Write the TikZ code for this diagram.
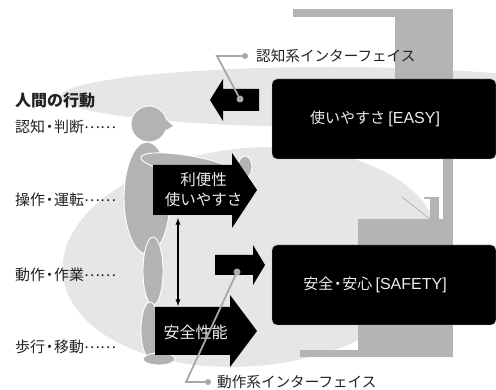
\documentclass[tikz,border=0pt]{standalone}
\usepackage{fontspec}
\setmainfont{Noto Sans CJK JP}
\newfontfamily\latin{Liberation Sans}
\usetikzlibrary{positioning}
\definecolor{machine}{HTML}{B4B4B4}
\definecolor{zone}{HTML}{E6E6E6}
\definecolor{figure}{HTML}{B3B3B3}
\definecolor{lead}{HTML}{A8A8A8}
\definecolor{ink}{HTML}{222222}
\newcommand{\nakaguro}{\kern-.2em・\kern-.2em}
\newcommand{\tenten}{\raisebox{.3em}{……}}
\newcommand{\lat}[1]{{\latin\fontsize{16}{18}\selectfont #1}}
\tikzset{
  limb/.style={fill=figure, draw=white, line width=0.9pt},
  panel/.style={fill=black, draw=black!30, line width=0.4pt, rounded corners=5pt,
    minimum width=224pt, minimum height=80pt},
  paneltext/.style={text=white!93!black, font=\fontsize{15}{18}\selectfont},
  arrowtext/.style={text=white!93!black, align=center, font=\fontsize{15.5}{20}\selectfont},
  act/.style={text=ink, anchor=west, inner sep=0pt, font=\fontsize{15}{17}\selectfont},
  leadline/.style={draw=lead, line width=1.8pt},
  leaddot/.style={circle, fill=lead, inner sep=0pt, minimum size=7pt},
}

\begin{document}
\begin{tikzpicture}[x=1pt, y=-1pt]
  \useasboundingbox (0,0) rectangle (496,390);

  \fill[zone] (330,97) ellipse[x radius=270pt, y radius=30pt];
  \fill[zone, rotate around={5.3:(251,257)}] (251,257) ellipse[x radius=189pt, y radius=109pt];

  % machine
  \fill[machine] (293,9) rectangle (453,17);
  \fill[machine] (395,9) rectangle (453,80);
  \fill[machine] (443,158) rectangle (453,219);
  \fill[machine] (430,197) rectangle (439,219);
  \fill[machine] (424,197) rectangle (439,199);
  \draw[machine, line width=0.8pt] (402,197) -- (430,219);
  \fill[machine] (358,219) rectangle (453,357);
  \fill[machine] (300,350) rectangle (453,357);

  % person
  \draw[limb] (149,124) circle[radius=18pt];
  \fill[figure] (165,119) -- (173,126) -- (166,130) -- cycle;
  \draw[limb] (147,198) ellipse[x radius=23pt, y radius=56pt];
  \draw[limb] (245,167) ellipse[x radius=7pt, y radius=11pt];
  \draw[limb, rotate around={-10:(190,166)}] (190,166) ellipse[x radius=50pt, y radius=10pt];
  \draw[limb] (153,271) ellipse[x radius=10pt, y radius=34pt];
  \draw[limb] (150,330) ellipse[x radius=9pt, y radius=28pt];
  \draw[limb] (159,359) ellipse[x radius=16pt, y radius=6pt];

  % arrows
  \fill (259,89) -- (223,89) -- (223,79) -- (210,100) -- (223,121) -- (223,111) -- (259,111) -- cycle;
  \fill (153,165) -- (232,165) -- (232,153) -- (257,190) -- (232,228) -- (232,215) -- (153,215) -- cycle;
  \fill (215,255) -- (253,255) -- (253,245) -- (265,265) -- (253,285) -- (253,275) -- (215,275) -- cycle;
  \fill (155,307) -- (230,307) -- (230,295) -- (257,331) -- (230,367) -- (230,355) -- (155,355) -- cycle;

  \node[arrowtext] (ease) at (203.5,190) {利便性\\使いやすさ};
  \node[arrowtext, font=\fontsize{16}{19}\selectfont] (safe) at (195.5,332) {安全性能};

  \coordinate (upper) at (178,218);
  \coordinate (lower) at (178,306);
  \draw[<->, >=latex, line width=1.3pt] (upper) -- (lower);

  \node[panel] (easy) at (384,119) {};
  \node[paneltext] (easytext) at (375,119) {使いやすさ \lat{[EASY]}};
  \node[panel] (safety) at (384,285) {};
  \node[paneltext] (safetytext) at (375,285) {安全\nakaguro 安心 \lat{[SAFETY]}};

  % interfaces
  \node[leaddot] (cogtip) at (240,99) {};
  \node[leaddot, minimum size=6pt] (cogend) at (245,56) {};
  \node[act, font=\fontsize{14.6}{17}\selectfont] (cog) at (256,56) {認知系インターフェイス};
  \draw[leadline] (cogtip) -- (217,56) -- (cogend);

  \node[leaddot] (mottip) at (237,272) {};
  \node[leaddot, minimum size=6pt] (motend) at (208,382) {};
  \node[act, font=\fontsize{14.6}{17}\selectfont] (mot) at (217,382) {動作系インターフェイス};
  \draw[leadline] (mottip) -- (186,382) -- (motend);

  % human behaviour
  \node[act, font=\fontsize{16}{18}\selectfont\bfseries] (head) at (15,100) {人間の行動};
  \node[act] (l1) at (15,127) {認知\nakaguro 判断\tenten};
  \node[act] (l2) at (15,200) {操作\nakaguro 運転\tenten};
  \node[act] (l3) at (15,275) {動作\nakaguro 作業\tenten};
  \node[act] (l4) at (15,347) {歩行\nakaguro 移動\tenten};
\end{tikzpicture}
\end{document}
